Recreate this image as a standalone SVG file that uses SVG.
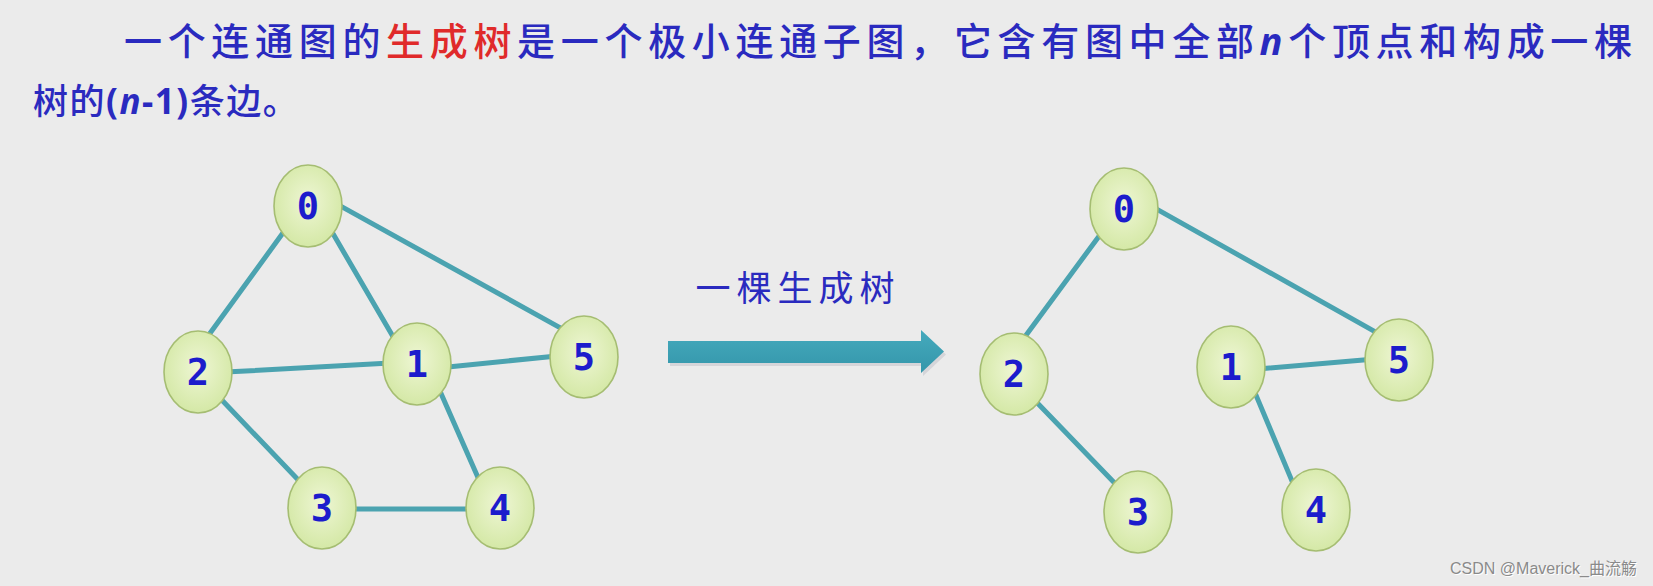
<svg xmlns="http://www.w3.org/2000/svg" width="1653" height="586" viewBox="0 0 1653 586">
<defs>
<radialGradient id="nodeFill" cx="50%" cy="45%" r="60%">
<stop offset="0%" stop-color="#eef6d4"/>
<stop offset="100%" stop-color="#d2e7a2"/>
</radialGradient>
<linearGradient id="arrowFill" x1="0" y1="0" x2="0" y2="1">
<stop offset="0%" stop-color="#45aabd"/>
<stop offset="100%" stop-color="#3496aa"/>
</linearGradient>
<style>
.node ellipse{fill:url(#nodeFill);stroke:#a5bd72;stroke-width:1.6}
.node text{font-family:"DejaVu Sans Mono","Liberation Mono",monospace;font-weight:bold;font-size:37px;fill:#1c1ccc;text-anchor:middle}
.edges line{stroke:#4ba3b0;stroke-width:5;stroke-linecap:round}
.cap{font-family:"Noto Sans CJK SC","Noto Sans",sans-serif;font-weight:500;fill:#2a2abf}
.red{fill:#e02a2a}
.it{font-family:"Noto Sans","DejaVu Sans",sans-serif;font-style:italic;font-weight:bold}
.num{font-family:"Noto Sans","DejaVu Sans",sans-serif;font-weight:bold}
.label{font-family:"Noto Sans CJK SC","Noto Sans",sans-serif;font-weight:400;fill:#2a2abf}
</style>
</defs>
<rect width="1653" height="586" fill="#ebebeb"/>

<text class="cap" x="124" y="55" font-size="38" textLength="1508" lengthAdjust="spacing">一个连通图的<tspan class="red">生成树</tspan>是一个极小连通子图，它含有图中全部<tspan class="it">n</tspan>个顶点和构成一棵</text>
<text class="cap" x="33" y="114" font-size="35" letter-spacing="1.5">树的<tspan class="num">(</tspan><tspan class="it">n</tspan><tspan class="num">-1)</tspan>条边。</text>

<text class="label" x="798" y="301" font-size="35" text-anchor="middle" letter-spacing="6">一棵生成树</text>

<g id="arrow">
<path d="M668,341 L921,341 L921,330 L944,351.5 L921,373 L921,363 L668,363 Z" fill="#889" opacity="0.22" transform="translate(2,3)"/>
<path d="M668,341 L921,341 L921,330 L944,351.5 L921,373 L921,363 L668,363 Z" fill="url(#arrowFill)"/>
</g>

<g class="edges" id="connectors">
<line x1="287.4" y1="226.8" x2="205.3" y2="339.8"/>
<line x1="330.3" y1="229.1" x2="394.7" y2="339.6"/>
<line x1="335.7" y1="203.4" x2="565.3" y2="330.6"/>
<line x1="225.3" y1="372.1" x2="390.3" y2="362.9"/>
<line x1="443" y1="367.5" x2="557" y2="355.9"/>
<line x1="218.5" y1="396.5" x2="303.8" y2="485.8"/>
<line x1="438.5" y1="387.7" x2="481.5" y2="485.6"/>
<line x1="349" y1="509" x2="473" y2="509"/>
<line x1="1101.4" y1="232.9" x2="1020.3" y2="343.1"/>
<line x1="1151.3" y1="206.1" x2="1382" y2="335.6"/>
<line x1="1258" y1="369" x2="1372" y2="359.3"/>
<line x1="1032.8" y1="398.2" x2="1118.9" y2="487.5"/>
<line x1="1254.2" y1="390.9" x2="1295.4" y2="489.1"/>
</g>

<g id="L0" class="node"><ellipse cx="308" cy="206" rx="34" ry="41"/><text x="308" y="219">0</text></g>
<g id="L1" class="node"><ellipse cx="417" cy="364" rx="34" ry="41"/><text x="417" y="377">1</text></g>
<g id="L2" class="node"><ellipse cx="198" cy="372" rx="34" ry="41"/><text x="198" y="385">2</text></g>
<g id="L3" class="node"><ellipse cx="322" cy="508" rx="34" ry="41"/><text x="322" y="521">3</text></g>
<g id="L4" class="node"><ellipse cx="500" cy="508" rx="34" ry="41"/><text x="500" y="521">4</text></g>
<g id="L5" class="node"><ellipse cx="584" cy="357" rx="34" ry="41"/><text x="584" y="370">5</text></g>

<g id="R0" class="node"><ellipse cx="1124" cy="209" rx="34" ry="41"/><text x="1124" y="222">0</text></g>
<g id="R1" class="node"><ellipse cx="1231" cy="367" rx="34" ry="41"/><text x="1231" y="380">1</text></g>
<g id="R2" class="node"><ellipse cx="1014" cy="374" rx="34" ry="41"/><text x="1014" y="387">2</text></g>
<g id="R3" class="node"><ellipse cx="1138" cy="512" rx="34" ry="41"/><text x="1138" y="525">3</text></g>
<g id="R4" class="node"><ellipse cx="1316" cy="510" rx="34" ry="41"/><text x="1316" y="523">4</text></g>
<g id="R5" class="node"><ellipse cx="1399" cy="360" rx="34" ry="41"/><text x="1399" y="373">5</text></g>

<text x="1637" y="574" font-family="'Liberation Sans','Noto Sans CJK SC',sans-serif" font-size="16" fill="#ffffff" text-anchor="end" transform="translate(1,1)">CSDN @Maverick_曲流觞</text>
<text x="1637" y="574" font-family="'Liberation Sans','Noto Sans CJK SC',sans-serif" font-size="16" fill="#8a8a8a" text-anchor="end">CSDN @Maverick_曲流觞</text>
</svg>
